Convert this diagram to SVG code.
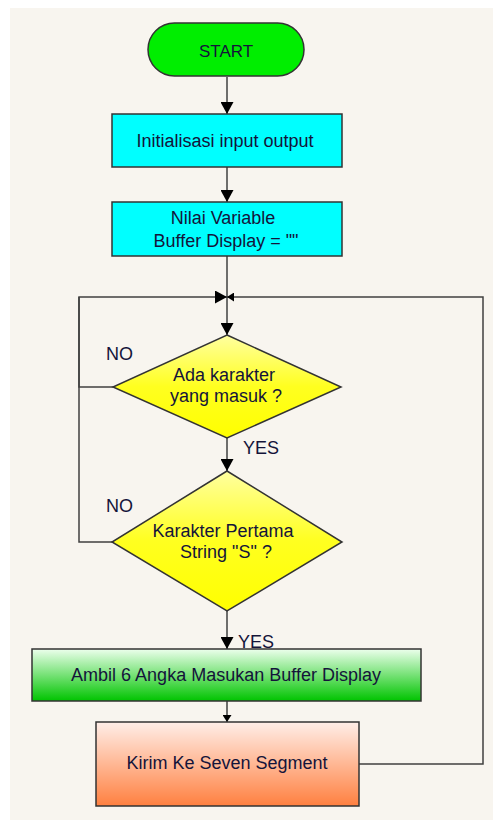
<svg xmlns="http://www.w3.org/2000/svg" width="493" height="820" viewBox="0 0 493 820">
<defs>
<style>
.t{font-family:"Liberation Sans",Arial,sans-serif;font-size:18px;fill:#14143a;text-anchor:middle}
.l{font-family:"Liberation Sans",Arial,sans-serif;font-size:18px;fill:#14143a}
.s{stroke:#333;stroke-width:1.5}
.c{fill:none;stroke:#404040;stroke-width:1.5}
</style>
<linearGradient id="gy" x1="0" y1="0" x2="0" y2="1"><stop offset="0" stop-color="#ffffa0"/><stop offset="0.5" stop-color="#ffff20"/><stop offset="1" stop-color="#ffff00"/></linearGradient>
<linearGradient id="gg" x1="0" y1="0" x2="0" y2="1"><stop offset="0" stop-color="#ecffec"/><stop offset="1" stop-color="#00c400"/></linearGradient>
<linearGradient id="go" x1="0" y1="0" x2="0" y2="1"><stop offset="0" stop-color="#ffeee8"/><stop offset="1" stop-color="#ff8040"/></linearGradient>
<marker id="arr" markerWidth="12" markerHeight="13" refX="12" refY="6.5" orient="auto" markerUnits="userSpaceOnUse"><path d="M0,0 L12,6.5 L0,13 Z" fill="#000"/></marker>
<marker id="sm" markerWidth="7" markerHeight="9" refX="7" refY="4.5" orient="auto" markerUnits="userSpaceOnUse"><path d="M0,0 L7,4.5 L0,9 Z" fill="#000"/></marker>
</defs>
<rect x="0" y="0" width="493" height="820" fill="#fff"/>
<rect x="10" y="8" width="483" height="812" fill="#f8f5ef"/>
<g id="connectors">
<path class="c" d="M227,77 V114" marker-end="url(#arr)"/>
<path class="c" d="M227,167 V202" marker-end="url(#arr)"/>
<path class="c" d="M227,256 V335" marker-end="url(#arr)"/>
<path class="c" d="M113,387 H79 V297 H227" marker-end="url(#arr)"/>
<path class="c" d="M112,542 H79 V297"/>
<path class="c" d="M227,438 V471" marker-end="url(#arr)"/>
<path class="c" d="M227,611 V649" marker-end="url(#arr)"/>
<path class="c" d="M227,701 V722" marker-end="url(#sm)"/>
<path class="c" d="M359,764 H483 V297 H227" marker-end="url(#sm)"/>
</g>
<g id="start">
<rect class="s" x="148" y="23" width="156" height="53" rx="26.5" fill="#00ee00"/>
<text class="t" x="226" y="56.5" style="font-size:17px">START</text>
</g>
<g id="init">
<rect class="s" x="112" y="114" width="230" height="53" fill="#00ffff"/>
<text class="t" x="225" y="146.5">Initialisasi input output</text>
</g>
<g id="var">
<rect class="s" x="112" y="202" width="230" height="54" fill="#00ffff"/>
<text class="t" x="223" y="224">Nilai Variable</text>
<text class="t" x="226" y="246.5">Buffer Display = ""</text>
</g>
<g id="dec1">
<polygon class="s" points="227,335 341,387 227,438 113,387" fill="url(#gy)"/>
<text class="t" x="224" y="381">Ada karakter</text>
<text class="t" x="226" y="402">yang masuk ?</text>
</g>
<g id="dec2">
<polygon class="s" points="227,471 342,542 227,611 112,542" fill="url(#gy)"/>
<text class="t" x="223" y="536.5">Karakter Pertama</text>
<text class="t" x="226" y="558">String "S" ?</text>
</g>
<g id="labels">
<text class="l" x="106" y="360">NO</text>
<text class="l" x="243" y="454">YES</text>
<text class="l" x="106" y="512">NO</text>
<text class="l" x="238" y="648">YES</text>
</g>
<g id="ambil">
<rect class="s" x="32" y="649" width="389" height="52" fill="url(#gg)"/>
<text class="t" x="226" y="680.5">Ambil 6 Angka Masukan Buffer Display</text>
</g>
<g id="kirim">
<rect class="s" x="96" y="722" width="263" height="84" fill="url(#go)"/>
<text class="t" x="227" y="769">Kirim Ke Seven Segment</text>
</g>
</svg>
